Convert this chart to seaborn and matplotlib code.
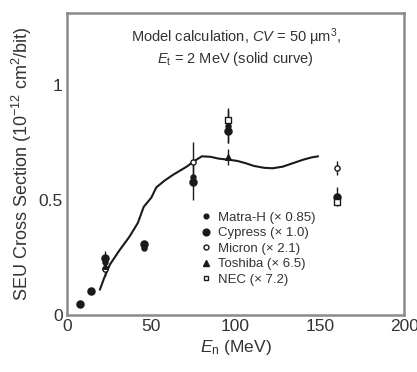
import numpy as np
import pandas as pd
import seaborn as sns
import matplotlib
matplotlib.use("Agg")
import matplotlib.pyplot as plt
from matplotlib.lines import Line2D

sns.set_theme(style="white")
plt.rcParams["font.family"] = ["Liberation Sans", "DejaVu Sans"]
plt.rcParams["mathtext.fontset"] = "custom"
plt.rcParams["mathtext.rm"] = "Liberation Sans"
plt.rcParams["mathtext.it"] = "Liberation Sans:italic"

# Model calculation (solid curve)
curve_e = [19.5, 22, 25.5, 31, 37, 42, 45.5, 50, 53, 58, 63, 71, 75, 80, 85, 90,
           96, 101, 106, 111, 117, 122, 128, 134, 140, 145, 149]
curve_sigma = [0.11, 0.16, 0.22, 0.28, 0.34, 0.40, 0.47, 0.51, 0.555, 0.585, 0.61,
               0.645, 0.667, 0.69, 0.688, 0.68, 0.675, 0.67, 0.66, 0.648, 0.64,
               0.638, 0.645, 0.66, 0.675, 0.685, 0.69]

# Scaled measurements
matra_e = [22.5, 45.7, 74.5, 95.7, 160]
matra_sigma = [0.23, 0.29, 0.60, 0.82, 0.50]
matra_err = [0.0, 0.0, 0.0, 0.07, 0.0]

cypress_e = [8, 14.5, 22.5, 45.7, 74.5, 95.7, 160]
cypress_sigma = [0.05, 0.105, 0.25, 0.31, 0.58, 0.80, 0.515]
cypress_err = [0.0, 0.0, 0.03, 0.0, 0.08, 0.05, 0.04]

micron_e = [22.5, 74.5, 160]
micron_sigma = [0.20, 0.667, 0.638]
micron_err = [0.03, 0.086, 0.03]

toshiba_e = [22.5, 95.7]
toshiba_sigma = [0.215, 0.688]
toshiba_err = [0.0, 0.035]

nec_e = [95.7, 160]
nec_sigma = [0.848, 0.49]
nec_err = [0.05, 0.0]

labels = ["Matra-H (\u00d7 0.85)", "Cypress (\u00d7 1.0)", "Micron (\u00d7 2.1)",
          "Toshiba (\u00d7 6.5)", "NEC (\u00d7 7.2)"]

ink = "#1a1a1a"
fig = plt.figure(figsize=(4.17, 3.72), dpi=100)
ax = fig.add_axes([0.1607, 0.1532, 0.8083, 0.8118])

curve = pd.DataFrame({"E": curve_e, "sigma": curve_sigma})
sns.lineplot(data=curve, x="E", y="sigma", ax=ax, color=ink, lw=1.5, sort=False)

series = [
    (matra_e, matra_sigma, matra_err, "o", 13, ink, ink),
    (cypress_e, cypress_sigma, cypress_err, "o", 26, ink, ink),
    (micron_e, micron_sigma, micron_err, "o", 14, "white", ink),
    (toshiba_e, toshiba_sigma, toshiba_err, "^", 16, ink, ink),
    (nec_e, nec_sigma, nec_err, "s", 13, "white", ink),
]
for e, s, err, mk, size, fc, ec in series:
    ax.errorbar(e, s, yerr=err, fmt="none", ecolor=ink, elinewidth=1.0,
                capsize=0, zorder=2)
for e, s, err, mk, size, fc, ec in series:
    df = pd.DataFrame({"E": e, "sigma": s})
    sns.scatterplot(data=df, x="E", y="sigma", ax=ax, marker=mk, s=size,
                    color=fc, edgecolor=ec, linewidth=1.0, zorder=3)

handles = [Line2D([], [], ls="none", marker=mk, markersize=np.sqrt(size) * 0.95,
                  markerfacecolor=fc, markeredgecolor=ec, markeredgewidth=1.0)
           for _, _, _, mk, size, fc, ec in series]
ax.legend(handles, labels, loc="upper left", bbox_to_anchor=(0.38, 0.365),
          frameon=False, fontsize=9.5, handlelength=0.6, handletextpad=0.6,
          labelspacing=0.25, borderpad=0, labelcolor="#333333")

ax.text(0.5, 0.955,
        "Model calculation, $\\mathit{CV}$ = 50 \u00b5m$^3$,\n"
        "$\\mathit{E}_\\mathrm{t}$ = 2 MeV (solid curve)",
        transform=ax.transAxes, ha="center", va="top", fontsize=10.5,
        color="#333333", linespacing=1.15)

ax.set_xlim(0, 200)
ax.set_ylim(0, 1.313)
ax.set_xticks([0, 50, 100, 150, 200])
ax.set_yticks([0, 0.5, 1])
ax.set_yticklabels(["0", "0.5", "1"])
ax.tick_params(axis="both", direction="in", length=9, width=1.0, color="#555555",
               labelsize=12.5, labelcolor="#333333", pad=3)
ax.set_xlabel("$\\mathit{E}_\\mathrm{n}$ (MeV)", fontsize=12.5, color="#333333",
              labelpad=3)
ax.set_ylabel("SEU Cross Section (10$^{-12}$ cm$^2$/bit)", fontsize=13,
              color="#333333", labelpad=3)
for sp in ax.spines.values():
    sp.set_visible(True)
    sp.set_color("#8a8a8a")
    sp.set_linewidth(1.8)

fig.savefig("out.png", dpi=100)
